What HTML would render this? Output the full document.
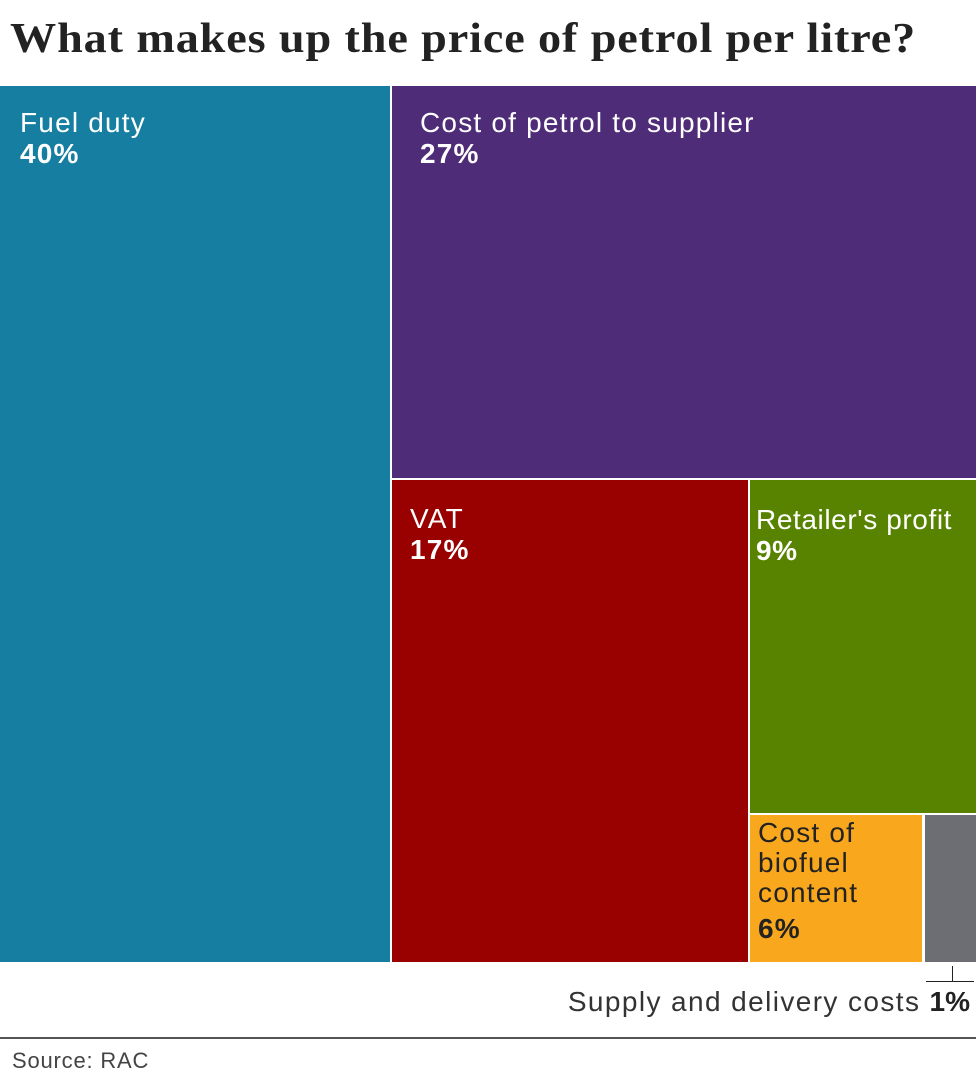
<!DOCTYPE html>
<html><head><style>
body{margin:0;width:976px;height:1085px;background:#fff;font-family:"Liberation Sans",sans-serif;position:relative;overflow:hidden}
.b{position:absolute;box-sizing:border-box}
.t{position:absolute;font-size:28px;line-height:31px;color:#fff;letter-spacing:1.2px}
.t b{display:block}
</style></head><body>
<div style="position:absolute;left:10px;top:15px;font-family:'Liberation Serif',serif;font-weight:bold;font-size:42px;letter-spacing:0.8px;color:#222;white-space:nowrap;transform:scaleX(1.1);transform-origin:0 0">What makes up the price of petrol per litre?</div>
<div class="b" style="left:0;top:86px;width:390px;height:876px;background:#167ea0"></div>
<div class="b" style="left:392px;top:86px;width:584px;height:392px;background:#4f2c77"></div>
<div class="b" style="left:392px;top:480px;width:356px;height:482px;background:#990000"></div>
<div class="b" style="left:750px;top:480px;width:226px;height:333px;background:#588300"></div>
<div class="b" style="left:750px;top:815px;width:172px;height:147px;background:#f9a81e"></div>
<div class="b" style="left:925px;top:815px;width:51px;height:147px;background:#6d6e73"></div>
<div class="t" style="left:20px;top:107px">Fuel duty<b>40%</b></div>
<div class="t" style="left:420px;top:107px">Cost of petrol to supplier<b>27%</b></div>
<div class="t" style="left:410px;top:503px">VAT<b>17%</b></div>
<div class="t" style="left:756px;top:504px;white-space:nowrap;letter-spacing:0.6px">Retailer's profit<b>9%</b></div>
<div class="t" style="left:758px;top:818px;color:#222;line-height:30px">Cost of<br>biofuel<br>content<b style="margin-top:6px">6%</b></div>
<div class="b" style="left:952px;top:966px;width:1px;height:16px;background:#222"></div>
<div class="b" style="left:926px;top:981px;width:48px;height:1px;background:#222"></div>
<div style="position:absolute;right:6px;top:986px;font-size:28px;color:#333;letter-spacing:1.4px;white-space:nowrap">Supply and delivery costs <b style="color:#222;letter-spacing:0">1%</b></div>
<div class="b" style="left:0;top:1037px;width:976px;height:2px;background:#555"></div>
<div style="position:absolute;left:12px;top:1048px;font-size:22px;color:#444;letter-spacing:0.8px">Source: RAC</div>
</body></html>
